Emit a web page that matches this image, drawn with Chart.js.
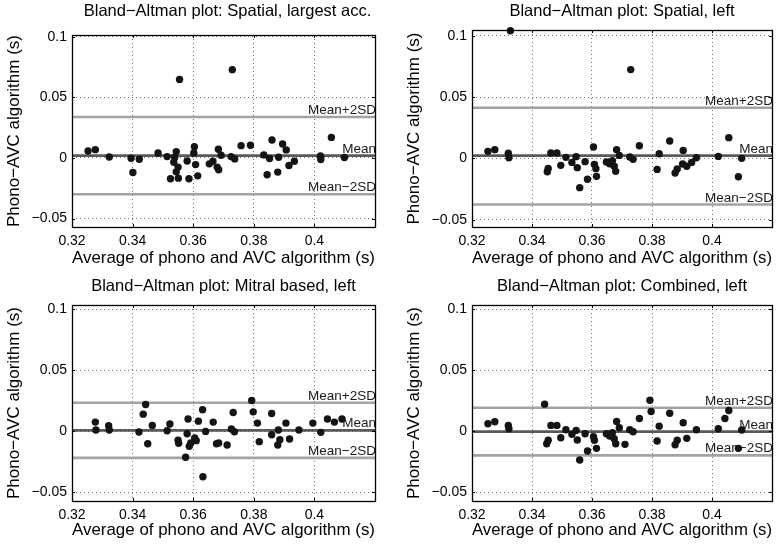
<!DOCTYPE html>
<html>
<head>
<meta charset="utf-8">
<script src="https://cdn.jsdelivr.net/npm/chart.js@4.4.1/dist/chart.umd.min.js"></script>
<style>
  body { margin: 0; background: #fff; }
  #wrap { position: relative; width: 776px; height: 544px; overflow: hidden; }
  .panel { position: absolute; width: 388px; height: 272px; }
</style>
</head>
<body>
<div id="wrap">
  <div class="panel" style="left:0;top:0"><canvas id="c1" width="388" height="272"></canvas></div>
  <div class="panel" style="left:388px;top:0"><canvas id="c2" width="388" height="272"></canvas></div>
  <div class="panel" style="left:0;top:272px"><canvas id="c3" width="388" height="272"></canvas></div>
  <div class="panel" style="left:388px;top:272px"><canvas id="c4" width="388" height="272"></canvas></div>
</div>
<script>
// tick values shared by all four panels
const xTicks = [0.32, 0.34, 0.36, 0.38, 0.40];
const yTicks = [-0.05, 0, 0.05, 0.1];
const limitLabels = ["Mean+2SD", "Mean", "Mean\u22122SD"];

// Spatial, largest acc.
const spatialLargestAvg = [0.3253, 0.3277, 0.3323, 0.3395, 0.3422, 0.3401, 0.3484, 0.3514, 0.3544, 0.3539,
  0.3536, 0.3550, 0.3544, 0.3525, 0.3551, 0.3580, 0.3586, 0.3604, 0.3602, 0.3608,
  0.3615, 0.3653, 0.3665, 0.3679, 0.3684, 0.3683, 0.3692, 0.3725, 0.3737, 0.3758,
  0.3789, 0.3833, 0.3852, 0.3860, 0.3844, 0.3879, 0.3882, 0.3895, 0.3907, 0.3916,
  0.3934, 0.4020, 0.4021, 0.4056, 0.4099, 0.3555, 0.3729];
const spatialLargestDiff = [0.0057, 0.0068, 0.0008, -0.0003, -0.0011, -0.0120, 0.0041, 0.0011, 0.0052, 0.0005,
  -0.0036, -0.0076, -0.0115, -0.0172, -0.0167, -0.0025, -0.0172, 0.0093, 0.0041, -0.0055,
  -0.0148, -0.0049, -0.0027, -0.0076, -0.0098, 0.0071, 0.0022, 0.0011, -0.0008, 0.0101,
  0.0104, 0.0025, -0.0005, 0.0148, -0.0139, -0.0117, 0.0005, 0.0115, 0.0066, -0.0063,
  -0.0027, 0.0016, -0.0014, 0.0169, 0.0003, 0.0647, 0.0728];
const spatialLargestLimits = [0.0338, 0.0019, -0.0300];

// Spatial, left
const spatialLeftAvg = [0.3253, 0.3276, 0.3321, 0.3323, 0.3451, 0.3454, 0.3463, 0.3483, 0.3496, 0.3513,
  0.3533, 0.3547, 0.3551, 0.3559, 0.3577, 0.3585, 0.3605, 0.3608, 0.3613, 0.3615,
  0.3648, 0.3659, 0.3668, 0.3674, 0.3679, 0.3682, 0.3691, 0.3726, 0.3737, 0.3758,
  0.3824, 0.3817, 0.3859, 0.3877, 0.3884, 0.3904, 0.3902, 0.3916, 0.3932, 0.3948,
  0.4021, 0.4056, 0.4088, 0.4099, 0.3328, 0.3729];
const spatialLeftDiff = [0.0057, 0.0071, 0.0041, 0.0005, -0.0109, -0.0082, 0.0044, 0.0044, -0.0057, 0.0008,
  -0.0033, 0.0014, -0.0076, -0.0239, -0.0027, -0.0171, 0.0092, -0.0049, -0.0084, -0.0147,
  -0.0030, -0.0044, -0.0019, -0.0065, -0.0106, 0.0071, 0.0024, 0.0011, -0.0008, 0.0103,
  0.0038, -0.0090, 0.0141, -0.0120, -0.0087, 0.0065, -0.0046, -0.0065, -0.0033, 0.0005,
  0.0016, 0.0169, -0.0150, 0.0000, 0.1041, 0.0724];
const spatialLeftLimits = [0.0413, 0.0022, -0.0377];

// Mitral based, left
const mitralAvg = [0.3277, 0.3279, 0.3321, 0.3323, 0.3421, 0.3443, 0.3435, 0.3450, 0.3465, 0.3514,
  0.3523, 0.3550, 0.3552, 0.3580, 0.3583, 0.3575, 0.3587, 0.3592, 0.3605, 0.3610,
  0.3617, 0.3631, 0.3641, 0.3666, 0.3677, 0.3684, 0.3712, 0.3726, 0.3736, 0.3732,
  0.3793, 0.3798, 0.3812, 0.3818, 0.3859, 0.3859, 0.3881, 0.3879, 0.3886, 0.3906,
  0.3918, 0.3949, 0.3995, 0.4021, 0.4043, 0.4066, 0.4091, 0.3632];
const mitralDiff = [0.0076, 0.0011, 0.0046, 0.0011, -0.0005, 0.0220, 0.0141, -0.0101, 0.0049, 0.0005,
  0.0060, -0.0073, -0.0098, -0.0019, 0.0101, -0.0212, -0.0122, -0.0095, -0.0054, -0.0076,
  0.0084, 0.0177, 0.0000, 0.0076, -0.0101, -0.0095, -0.0111, 0.0019, -0.0003, 0.0155,
  0.0253, 0.0160, 0.0068, -0.0084, 0.0147, -0.0027, 0.0011, -0.0111, -0.0068, 0.0068,
  -0.0062, 0.0011, 0.0068, -0.0008, 0.0101, 0.0076, 0.0101, -0.0372];
const mitralLimits = [0.0234, 0.0008, -0.0217];

// Combined, left
const combinedAvg = [0.3253, 0.3276, 0.3321, 0.3323, 0.3442, 0.3449, 0.3454, 0.3463, 0.3483, 0.3496,
  0.3513, 0.3533, 0.3547, 0.3551, 0.3559, 0.3577, 0.3585, 0.3605, 0.3608, 0.3615,
  0.3648, 0.3659, 0.3668, 0.3674, 0.3679, 0.3682, 0.3691, 0.3710, 0.3726, 0.3737,
  0.3758, 0.3793, 0.3797, 0.3824, 0.3817, 0.3859, 0.3877, 0.3884, 0.3904, 0.3916,
  0.3948, 0.4021, 0.4043, 0.4056, 0.4088, 0.4099];
const combinedDiff = [0.0062, 0.0079, 0.0049, 0.0022, 0.0223, -0.0101, -0.0073, 0.0049, 0.0049, -0.0052,
  0.0014, -0.0024, 0.0008, -0.0071, -0.0234, -0.0019, -0.0160, -0.0043, -0.0073, -0.0139,
  -0.0019, -0.0038, -0.0011, -0.0060, -0.0101, 0.0082, 0.0030, -0.0106, 0.0014, -0.0003,
  0.0106, 0.0255, 0.0163, 0.0043, -0.0079, 0.0149, -0.0109, -0.0073, 0.0071, -0.0057,
  0.0014, 0.0022, 0.0106, 0.0171, -0.0139, 0.0011];
const combinedLimits = [0.0193, -0.0002, -0.0196];

const FONT = "'Liberation Sans', Arial, Helvetica, sans-serif";
const minus = v => String(v).replace("-", "\u2212");

// frame, inward ticks, title and limit labels
const axesDecor = {
  id: "axesDecor",
  beforeDatasetsDraw(chart) {
    const { ctx, chartArea: a, scales } = chart;
    const limits = chart.options.plugins.axesDecor.limits;
    ctx.save();
    ctx.font = "13.5px " + FONT;
    ctx.fillStyle = "#1a1a1a";
    ctx.textAlign = "right";
    ctx.textBaseline = "alphabetic";
    limits.forEach((v, i) => {
      ctx.fillText(limitLabels[i], a.right + 1, scales.y.getPixelForValue(v) - 3);
    });
    ctx.restore();
  },
  afterDraw(chart) {
    const { ctx, chartArea: a, scales } = chart;
    const opts = chart.options.plugins.axesDecor;
    ctx.save();
    ctx.strokeStyle = "#000";
    ctx.lineWidth = 1;
    ctx.beginPath();
    xTicks.forEach(v => {
      const px = Math.round(scales.x.getPixelForValue(v)) + 0.5;
      ctx.moveTo(px, a.bottom); ctx.lineTo(px, a.bottom - 3);
      ctx.moveTo(px, a.top); ctx.lineTo(px, a.top + 3);
    });
    yTicks.forEach(v => {
      const py = Math.round(scales.y.getPixelForValue(v)) + 0.5;
      ctx.moveTo(a.left, py); ctx.lineTo(a.left + 3, py);
      ctx.moveTo(a.right, py); ctx.lineTo(a.right - 3, py);
    });
    ctx.stroke();
    ctx.lineWidth = 1.3;
    ctx.strokeRect(Math.round(a.left) + 0.5, Math.round(a.top) + 0.5,
      Math.round(a.right - a.left), Math.round(a.bottom - a.top));
    ctx.font = "16.5px " + FONT;
    ctx.fillStyle = "#000";
    ctx.textAlign = "center";
    ctx.textBaseline = "middle";
    ctx.fillText(opts.title, (a.left + a.right) / 2 + opts.titleDx, opts.titleY);
    ctx.restore();
  }
};

function makePanel(id, title, avg, diff, limits, g) {
  const points = avg.map((x, i) => ({ x: x, y: diff[i] }));
  const lineColors = ["#a3a3a3", "#5a5a5a", "#a3a3a3"];
  const lineSets = limits.map((v, i) => ({
    type: "line",
    data: [{ x: 0.32, y: v }, { x: 0.42, y: v }],
    borderColor: lineColors[i],
    borderWidth: 2.6,
    pointRadius: 0,
    order: 2
  }));
  new Chart(document.getElementById(id), {
    type: "scatter",
    data: {
      datasets: [{
        data: points,
        backgroundColor: "#141414",
        borderColor: "#141414",
        pointRadius: 3.7,
        borderWidth: 0,
        clip: false,
        order: 1
      }].concat(lineSets)
    },
    options: {
      responsive: false,
      animation: false,
      devicePixelRatio: 1,
      layout: { padding: { left: 0, right: g.padRight, top: g.padTop, bottom: 0 } },
      plugins: {
        legend: { display: false },
        tooltip: { enabled: false },
        axesDecor: { title: title, titleY: g.titleY, titleDx: g.titleDx, limits: limits }
      },
      scales: {
        x: {
          type: "linear",
          min: 0.32,
          max: 0.42,
          afterBuildTicks: s => { s.ticks = xTicks.map(v => ({ value: v })); },
          afterFit: s => { s.height = g.xHeight; },
          ticks: { color: "#000", font: { size: 14, family: FONT }, padding: 6, maxRotation: 0, callback: v => String(v) },
          grid: { color: "rgba(0,0,0,0.55)", lineWidth: 1, drawTicks: false },
          border: { display: false, dash: [1, 3] },
          title: { display: true, text: "Average of phono and AVC algorithm (s)", color: "#000",
            font: { size: 17, family: FONT }, padding: { top: 0, bottom: 3 } }
        },
        y: {
          type: "linear",
          min: g.ymin,
          max: g.ymax,
          afterBuildTicks: s => { s.ticks = yTicks.map(v => ({ value: v })); },
          afterFit: s => { s.width = g.yWidth; },
          ticks: { color: "#000", font: { size: 14, family: FONT }, padding: 5, callback: v => minus(v) },
          grid: { color: "rgba(0,0,0,0.55)", lineWidth: 1, drawTicks: false },
          border: { display: false, dash: [1, 3] },
          title: { display: true, text: "Phono\u2212AVC algorithm (s)", color: "#000",
            font: { size: 17, family: FONT }, padding: { top: g.yTitlePad, bottom: 0 } }
        }
      }
    },
    plugins: [axesDecor]
  });
}

makePanel("c1", "Bland\u2212Altman plot: Spatial, largest acc.", spatialLargestAvg, spatialLargestDiff, spatialLargestLimits,
  { yWidth: 72, padRight: 13, padTop: 35, xHeight: 45, yTitlePad: 4, titleY: 11.5, titleDx: 4, ymin: -0.057, ymax: 0.1014 });
makePanel("c2", "Bland\u2212Altman plot: Spatial, left", spatialLeftAvg, spatialLeftDiff, spatialLeftLimits,
  { yWidth: 84, padRight: 1, padTop: 30, xHeight: 45, yTitlePad: 16, titleY: 11, titleDx: 0, ymin: -0.056, ymax: 0.1047 });
makePanel("c3", "Bland\u2212Altman plot: Mitral based, left", mitralAvg, mitralDiff, mitralLimits,
  { yWidth: 72, padRight: 13, padTop: 33, xHeight: 43, yTitlePad: 4, titleY: 14.5, titleDx: 0, ymin: -0.057, ymax: 0.1035 });
makePanel("c4", "Bland\u2212Altman plot: Combined, left", combinedAvg, combinedDiff, combinedLimits,
  { yWidth: 84, padRight: 1, padTop: 33, xHeight: 43, yTitlePad: 16, titleY: 14.5, titleDx: 0, ymin: -0.057, ymax: 0.1035 });
</script>
</body>
</html>
